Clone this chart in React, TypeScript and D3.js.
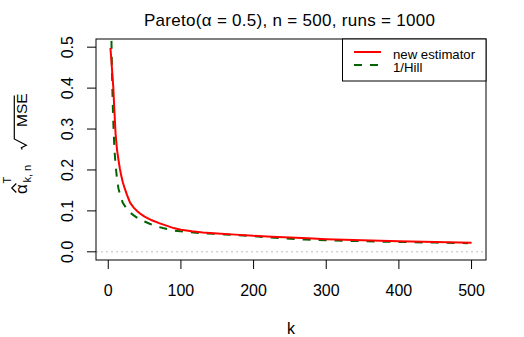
import { useEffect, useRef } from 'react';
import * as d3 from 'd3';

const kRed = [3, 4, 5, 6, 7, 8, 9, 10, 11, 12, 14, 16, 18, 20, 23, 26, 30, 35, 40, 45, 50, 60, 70, 80, 90, 100, 115, 130, 150, 175, 200, 225, 250, 275, 300, 350, 400, 450, 500];
const mseRed = [0.498, 0.475, 0.45, 0.425, 0.4, 0.36, 0.325, 0.29, 0.27, 0.25, 0.225, 0.203, 0.185, 0.17, 0.153, 0.138, 0.12, 0.108, 0.099, 0.092, 0.086, 0.077, 0.07, 0.064, 0.058, 0.054, 0.05, 0.047, 0.0445, 0.042, 0.039, 0.037, 0.035, 0.033, 0.031, 0.028, 0.026, 0.024, 0.022];

const kHill = [3, 4, 5, 6, 7, 8, 9, 10, 12, 14, 16, 18, 20, 25, 30, 35, 40, 50, 57, 65, 75, 90, 110, 130, 160, 200, 235, 270, 300, 350, 400, 450, 495];
const mseHill = [0.75, 0.56, 0.45, 0.37, 0.315, 0.27, 0.238, 0.214, 0.178, 0.155, 0.141, 0.13, 0.12, 0.106, 0.096, 0.089, 0.083, 0.074, 0.0685, 0.063, 0.058, 0.052, 0.048, 0.0455, 0.0425, 0.038, 0.0335, 0.03, 0.028, 0.026, 0.024, 0.0225, 0.021];

const xTicks = [0, 100, 200, 300, 400, 500];
const yTicks = [0, 0.1, 0.2, 0.3, 0.4, 0.5];
const yTickLabels = ['0.0', '0.1', '0.2', '0.3', '0.4', '0.5'];
const legendLabels = ['new estimator', '1/Hill'];

const W = 524, H = 337;
const FONT = 'Arial, "Liberation Sans", Helvetica, sans-serif';

export default function App() {
  const ref = useRef<SVGSVGElement>(null);

  useEffect(() => {
    const svg = d3.select(ref.current);
    svg.selectAll('*').remove();

    const box = { left: 96, right: 486, top: 39, bottom: 260 };
    const x = d3.scaleLinear().domain([3 - 497 * 0.04, 500 + 497 * 0.04]).range([box.left, box.right]);
    const y = d3.scaleLinear().domain([-0.02, 0.52]).range([box.bottom, box.top]);

    svg.append('rect').attr('width', W).attr('height', H).attr('fill', '#fff');

    svg.append('clipPath').attr('id', 'plotclip')
      .append('rect').attr('x', box.left).attr('y', box.top)
      .attr('width', box.right - box.left).attr('height', box.bottom - box.top);

    const plot = svg.append('g').attr('clip-path', 'url(#plotclip)');

    // reference line at zero
    plot.append('line')
      .attr('x1', box.left).attr('x2', box.right).attr('y1', y(0)).attr('y2', y(0))
      .attr('stroke', '#bebebe').attr('stroke-width', 1).attr('stroke-dasharray', '2,3');

    const line = d3.line<[number, number]>().x(d => x(d[0])).y(d => y(d[1]));

    plot.append('path')
      .attr('d', line(kHill.map((k, i) => [k, mseHill[i]] as [number, number])))
      .attr('fill', 'none').attr('stroke', '#006400').attr('stroke-width', 2)
      .attr('stroke-dasharray', '8,8');

    plot.append('path')
      .attr('d', line(kRed.map((k, i) => [k, mseRed[i]] as [number, number])))
      .attr('fill', 'none').attr('stroke', '#ff0000').attr('stroke-width', 2);

    // box
    svg.append('rect')
      .attr('x', box.left).attr('y', box.top)
      .attr('width', box.right - box.left).attr('height', box.bottom - box.top)
      .attr('fill', 'none').attr('stroke', '#000').attr('stroke-width', 1);

    // x axis
    const xa = svg.append('g').attr('font-family', FONT).attr('font-size', 16);
    xTicks.forEach(t => {
      xa.append('line').attr('x1', x(t)).attr('x2', x(t)).attr('y1', box.bottom).attr('y2', box.bottom + 9)
        .attr('stroke', '#000');
      xa.append('text').attr('x', x(t)).attr('y', 295.5).attr('text-anchor', 'middle').text(String(t));
    });

    // y axis
    const ya = svg.append('g').attr('font-family', FONT).attr('font-size', 16);
    yTicks.forEach((t, i) => {
      ya.append('line').attr('x1', box.left - 9).attr('x2', box.left).attr('y1', y(t)).attr('y2', y(t))
        .attr('stroke', '#000');
      ya.append('text').attr('transform', `translate(72.5,${y(t)}) rotate(-90)`)
        .attr('text-anchor', 'middle').text(yTickLabels[i]);
    });

    // titles
    const title = svg.append('text').attr('x', 144).attr('y', 25.7)
      .attr('font-family', FONT).attr('font-size', 17)
      .attr('textLength', 291).attr('lengthAdjust', 'spacing');
    title.append('tspan').text('Pareto(');
    title.append('tspan').text('α');
    title.append('tspan').text(' = 0.5), n = 500, runs = 1000');

    svg.append('text').attr('x', 291).attr('y', 334).attr('text-anchor', 'middle')
      .attr('font-family', FONT).attr('font-size', 16).text('k');

    // y label: hat(alpha)[k,n]^T  sqrt(MSE)
    const yl = svg.append('g').attr('transform', 'translate(27.3,149.5) rotate(-90)')
      .attr('font-family', FONT);
    yl.append('text').attr('x', -44.5).attr('y', 0).attr('font-size', 17).text('α');
    yl.append('path').attr('d', 'M-43,-11 L-38.5,-15.5 L-34,-11')
      .attr('fill', 'none').attr('stroke', '#000').attr('stroke-width', 1.2);
    yl.append('text').attr('x', -34).attr('y', -16.5).attr('font-size', 11).text('T');
    yl.append('text').attr('x', -33).attr('y', 3.4).attr('font-size', 11).text('k, n');
    yl.append('path').attr('d', 'M0,-5 L1.8,-6 L4.2,-1 L10.5,-13 L54,-13')
      .attr('fill', 'none').attr('stroke', '#000').attr('stroke-width', 1.2);
    yl.append('text').attr('x', 22.5).attr('y', 0).attr('font-size', 15.5).text('MSE');

    // legend
    const lg = svg.append('g').attr('font-family', FONT).attr('font-size', 13.2);
    lg.append('rect').attr('x', 342.5).attr('y', box.top).attr('width', box.right - 342.5).attr('height', 42)
      .attr('fill', '#fff').attr('stroke', '#000');
    const legColors = ['#ff0000', '#006400'];
    const legDash = [null, '8,8'];
    legendLabels.forEach((lab, i) => {
      const base = 59 + i * 13;
      lg.append('line').attr('x1', 354).attr('x2', 381).attr('y1', base - 7).attr('y2', base - 7)
        .attr('stroke', legColors[i]).attr('stroke-width', 2)
        .attr('stroke-dasharray', legDash[i]);
      lg.append('text').attr('x', 393).attr('y', base).text(lab);
    });
  }, []);

  return (
    <svg ref={ref} width={W} height={H}
      style={{ position: 'absolute', left: 0, top: 0, display: 'block' }} />
  );
}
